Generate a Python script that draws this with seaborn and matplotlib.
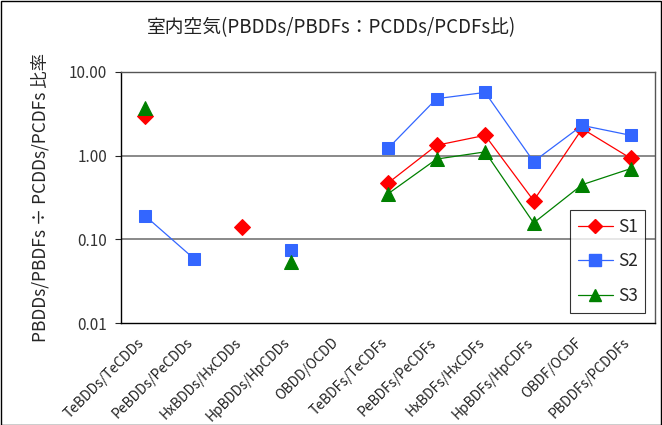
import numpy as np
import pandas as pd
import matplotlib
matplotlib.use('Agg')
import matplotlib.pyplot as plt
import matplotlib.transforms as mtrans
import seaborn as sns

# categories (x axis)
cats = ['TeBDDs/TeCDDs', 'PeBDDs/PeCDDs', 'HxBDDs/HxCDDs', 'HpBDDs/HpCDDs',
        'OBDD/OCDD', 'TeBDFs/TeCDFs', 'PeBDFs/PeCDFs', 'HxBDFs/HxCDFs',
        'HpBDFs/HpCDFs', 'OBDF/OCDF', 'PBDDFs/PCDDFs']

# ratios (nan = not detected)
s1 = [3.0, np.nan, 0.14, np.nan, np.nan, 0.47, 1.33, 1.75, 0.29, 2.1, 0.93]
s2 = [0.19, 0.059, np.nan, 0.075, np.nan, 1.22, 4.8, 5.7, 0.85, 2.3, 1.75]
s3 = [3.7, np.nan, np.nan, 0.054, np.nan, 0.35, 0.91, 1.11, 0.157, 0.45, 0.70]

series = {'S1': s1, 'S2': s2, 'S3': s3}
colors = {'S1': '#FF0000', 'S2': '#3366FF', 'S3': '#008000'}
markers = {'S1': 'D', 'S2': 's', 'S3': '^'}
msize = {'S1': 8, 'S2': 9, 'S3': 10}

rows = []
for name, vals in series.items():
    seg = 0
    for i, v in enumerate(vals):
        if np.isnan(v):
            seg += 1
            continue
        rows.append({'x': i, 'y': v, 'series': name, 'seg': f'{name}_{seg}'})
df = pd.DataFrame(rows)

sns.set_style('white')
plt.rcParams['font.family'] = ['Noto Sans CJK JP', 'DejaVu Sans']

fig = plt.figure(figsize=(6.62, 4.25), dpi=100)
ax = fig.add_axes([0.1828, 0.24, 0.8066, 0.5906])

for name in series:
    sub = df[df.series == name]
    sns.lineplot(data=sub, x='x', y='y', units='seg', estimator=None,
                 color=colors[name], marker=markers[name], markersize=msize[name],
                 markeredgecolor=colors[name], lw=0.9, ax=ax, label=None)

ax.set_yscale('log')
ax.set_ylim(0.01, 10)
ax.set_yticks([0.01, 0.1, 1, 10])
ax.set_yticklabels(['0.01', '0.10', '1.00', '10.00'], fontsize=11, color='#333333')
ax.yaxis.set_minor_locator(matplotlib.ticker.NullLocator())
for yv in [0.1, 1]:
    ax.axhline(yv, color='#808080', lw=1.3, zorder=0)

ax.set_xlim(-0.5, len(cats) - 0.5)
ax.set_xticks(range(len(cats)))
ax.set_xticklabels(cats, rotation=45, ha='right', rotation_mode='anchor',
                   fontsize=10, color='#222222')
ax.tick_params(axis='x', length=0, pad=9)
shift = mtrans.ScaledTranslation(-8 / 100, 0, fig.dpi_scale_trans)
for lab in ax.get_xticklabels():
    lab.set_transform(lab.get_transform() + shift)
ax.set_xticks(np.arange(0.5, len(cats) - 0.5, 1), minor=True)
ax.tick_params(axis='x', which='minor', length=4, direction='in', width=0.8)
ax.tick_params(axis='y', length=4, direction='out', width=0.8, left=True, pad=6)
ax.set_xlabel('')
ax.set_ylabel('PBDDs/PBDFs ÷ PCDDs/PCDFs 比率', fontsize=12.5, labelpad=14)

for sp in ax.spines.values():
    sp.set_color('black')
    sp.set_linewidth(1)
ax.spines['top'].set_color('#555555')
ax.spines['right'].set_color('#555555')

handles = [plt.Line2D([], [], color=colors[n], marker=markers[n], markersize=msize[n] - 1,
                      lw=0.9) for n in series]
leg = fig.legend(handles, list(series.keys()), loc='upper left',
                 bbox_to_anchor=(570 / 662, 1 - 210 / 425), fontsize=12.5,
                 frameon=True, fancybox=False, edgecolor='black', handlelength=2.0,
                 handletextpad=0.3, labelspacing=0.95, borderpad=0.45,
                 borderaxespad=0)
leg.get_frame().set_linewidth(0.8)

fig.text(0.5, 1 - 28 / 425, '室内空気(PBDDs/PBDFs：PCDDs/PCDFs比)', ha='center',
         va='center', fontsize=13.5, color='#222222')

fig.patches.append(matplotlib.patches.Rectangle((0.001, 0.001), 0.997, 0.997,
                   transform=fig.transFigure, fill=False, edgecolor='black', lw=1))

fig.savefig('out.png', dpi=100)
